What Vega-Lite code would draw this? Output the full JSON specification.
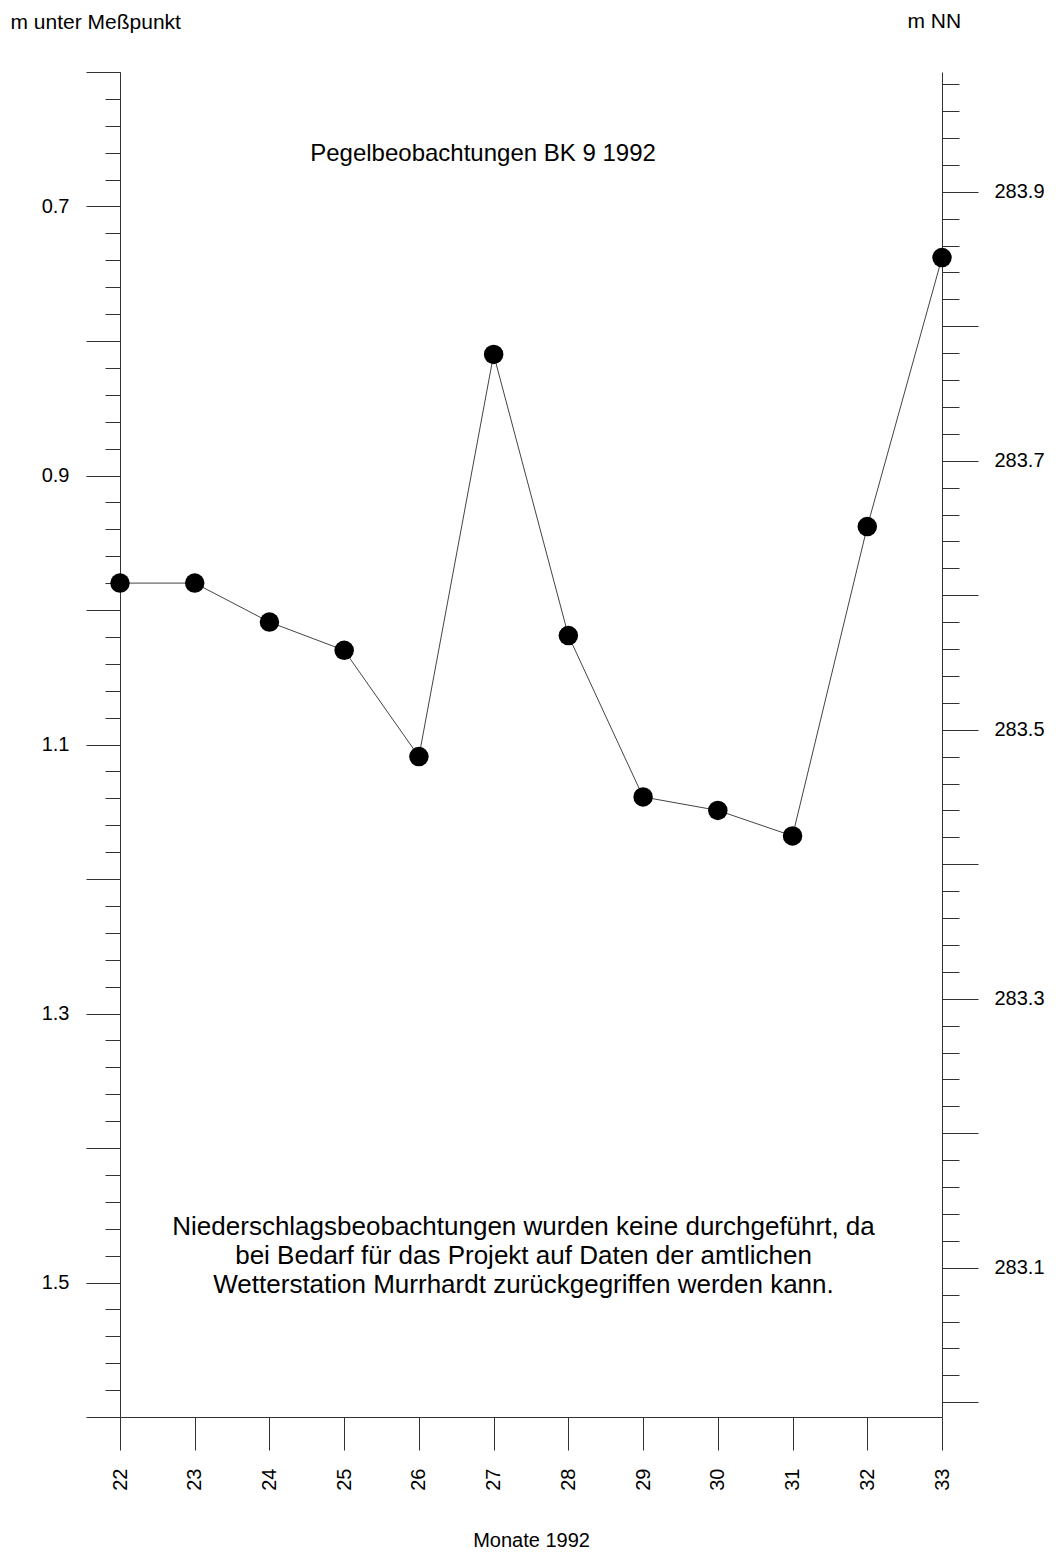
{
  "$schema": "https://vega.github.io/schema/vega-lite/v6.json",
  "autosize": {"type": "none"},
  "padding": {"left": 120, "top": 72, "right": 114, "bottom": 147},
  "width": 822,
  "height": 1345,
  "background": "white",
  "config": {
    "view": {"stroke": null},
    "font": "Liberation Sans",
    "axis": {
      "grid": false,
      "domainColor": "#333333",
      "tickColor": "#333333",
      "labelColor": "black",
      "titleColor": "black",
      "labelFont": "Liberation Sans",
      "titleFont": "Liberation Sans",
      "labelFontSize": 20,
      "titleFontSize": 20,
      "titleFontWeight": "normal",
      "domainWidth": 1,
      "tickWidth": 1
    },
    "axisX": {
      "orient": "bottom",
      "tickSize": 33,
      "labelAngle": -90,
      "labelAlign": "right",
      "labelBaseline": "middle",
      "labelPadding": 18,
      "labelFontSize": 20,
      "titleY": 129,
      "titleBaseline": "alphabetic",
      "titleFontSize": 20
    }
  },
  "data": {
    "values": [
      {"monat": 22, "pegel": 0.980},
      {"monat": 23, "pegel": 0.980},
      {"monat": 24, "pegel": 1.009},
      {"monat": 25, "pegel": 1.030},
      {"monat": 26, "pegel": 1.109},
      {"monat": 27, "pegel": 0.810},
      {"monat": 28, "pegel": 1.019},
      {"monat": 29, "pegel": 1.139},
      {"monat": 30, "pegel": 1.149},
      {"monat": 31, "pegel": 1.168},
      {"monat": 32, "pegel": 0.938},
      {"monat": 33, "pegel": 0.738}
    ]
  },
  "layer": [
    {
      "mark": {"type": "line", "color": "#444444", "strokeWidth": 1},
      "encoding": {
        "x": {
          "field": "monat",
          "type": "quantitative",
          "scale": {"domain": [22, 33], "nice": false, "zero": false},
          "axis": {"title": "Monate 1992", "values": [22, 23, 24, 25, 26, 27, 28, 29, 30, 31, 32, 33], "format": "d"}
        },
        "y": {
          "field": "pegel",
          "type": "quantitative",
          "scale": {"domain": [0.6, 1.6], "reverse": true, "nice": false, "zero": false},
          "axis": {
            "orient": "left",
            "values": [0.6, 0.7, 0.8, 0.9, 1.0, 1.1, 1.2, 1.3, 1.4, 1.5, 1.6],
            "tickSize": 34,
            "labelPadding": 17,
            "labelExpr": "indexof([0.7, 0.9, 1.1, 1.3, 1.5], datum.value) >= 0 ? format(datum.value, '.1f') : ''",
            "title": "m unter Meßpunkt",
            "titleAngle": 0,
            "titleAlign": "left",
            "titleBaseline": "alphabetic",
            "titleX": -110,
            "titleY": -44,
            "titleFontSize": 21
          }
        }
      }
    },
    {
      "mark": {"type": "point", "filled": true, "color": "black", "opacity": 1, "size": 380},
      "encoding": {
        "x": {
          "field": "monat",
          "type": "quantitative",
          "scale": {"domain": [22, 33], "nice": false, "zero": false},
          "axis": {"title": "Monate 1992", "values": [22, 23, 24, 25, 26, 27, 28, 29, 30, 31, 32, 33], "format": "d"}
        },
        "y": {
          "field": "pegel",
          "type": "quantitative",
          "scale": {"domain": [0.6, 1.6], "reverse": true, "nice": false, "zero": false},
          "axis": {
            "orient": "left",
            "values": [0.6, 0.62, 0.64, 0.66, 0.68, 0.7, 0.72, 0.74, 0.76, 0.78, 0.8, 0.82, 0.84, 0.86, 0.88, 0.9, 0.92, 0.94, 0.96, 0.98, 1.0, 1.02, 1.04, 1.06, 1.08, 1.1, 1.12, 1.14, 1.16, 1.18, 1.2, 1.22, 1.24, 1.26, 1.28, 1.3, 1.32, 1.34, 1.36, 1.38, 1.4, 1.42, 1.44, 1.46, 1.48, 1.5, 1.52, 1.54, 1.56, 1.58, 1.6],
            "tickSize": 15,
            "labels": false,
            "domain": false,
            "title": null
          }
        }
      }
    },
    {
      "data": {"values": [{}]},
      "mark": {"type": "rule", "strokeOpacity": 0},
      "encoding": {
        "y": {
          "datum": 283.5,
          "type": "quantitative",
          "scale": {"domain": [282.989, 283.989], "nice": false, "zero": false},
          "axis": {
            "orient": "right",
            "values": [283.0, 283.1, 283.2, 283.3, 283.4, 283.5, 283.6, 283.7, 283.8, 283.9],
            "tickSize": 36,
            "labelPadding": 16,
            "labelExpr": "indexof([283.1, 283.3, 283.5, 283.7, 283.9], datum.value) >= 0 ? format(datum.value, '.1f') : ''",
            "title": "m NN",
            "titleAngle": 0,
            "titleAlign": "left",
            "titleBaseline": "alphabetic",
            "titleX": -35,
            "titleY": -45,
            "titleFontSize": 21
          }
        }
      }
    },
    {
      "data": {"values": [{}]},
      "mark": {"type": "rule", "strokeOpacity": 0},
      "encoding": {
        "y": {
          "datum": 283.5,
          "type": "quantitative",
          "scale": {"domain": [282.989, 283.989], "nice": false, "zero": false},
          "axis": {
            "orient": "right",
            "values": [283.0, 283.02, 283.04, 283.06, 283.08, 283.1, 283.12, 283.14, 283.16, 283.18, 283.2, 283.22, 283.24, 283.26, 283.28, 283.3, 283.32, 283.34, 283.36, 283.38, 283.4, 283.42, 283.44, 283.46, 283.48, 283.5, 283.52, 283.54, 283.56, 283.58, 283.6, 283.62, 283.64, 283.66, 283.68, 283.7, 283.72, 283.74, 283.76, 283.78, 283.8, 283.82, 283.84, 283.86, 283.88, 283.9, 283.92, 283.94, 283.96, 283.98],
            "tickSize": 17,
            "labels": false,
            "domain": false,
            "title": null
          }
        }
      }
    },
    {
      "data": {"values": [{"titel": "Pegelbeobachtungen BK 9 1992"}]},
      "mark": {"type": "text", "font": "Liberation Sans", "fontSize": 24, "color": "black", "align": "center", "baseline": "alphabetic"},
      "encoding": {
        "x": {"datum": 26.858, "type": "quantitative", "scale": {"domain": [22, 33], "nice": false, "zero": false}, "axis": {"title": "Monate 1992", "values": [22, 23, 24, 25, 26, 27, 28, 29, 30, 31, 32, 33], "format": "d"}},
        "y": {"datum": 0.6658, "type": "quantitative", "scale": {"domain": [0.6, 1.6], "reverse": true, "nice": false, "zero": false}, "axis": null},
        "text": {"field": "titel"}
      }
    },
    {
      "data": {"values": [{"hinweis": ["Niederschlagsbeobachtungen wurden keine durchgeführt, da", "bei Bedarf für das Projekt auf Daten der amtlichen", "Wetterstation Murrhardt zurückgegriffen werden kann."]}]},
      "mark": {"type": "text", "font": "Liberation Sans", "fontSize": 26, "lineHeight": 29, "color": "black", "align": "center", "baseline": "middle"},
      "encoding": {
        "x": {"datum": 27.4, "type": "quantitative", "scale": {"domain": [22, 33], "nice": false, "zero": false}, "axis": {"title": "Monate 1992", "values": [22, 23, 24, 25, 26, 27, 28, 29, 30, 31, 32, 33], "format": "d"}},
        "y": {"datum": 1.4587, "type": "quantitative", "scale": {"domain": [0.6, 1.6], "reverse": true, "nice": false, "zero": false}, "axis": null},
        "text": {"field": "hinweis"}
      }
    }
  ],
  "resolve": {"scale": {"y": "independent"}}
}
